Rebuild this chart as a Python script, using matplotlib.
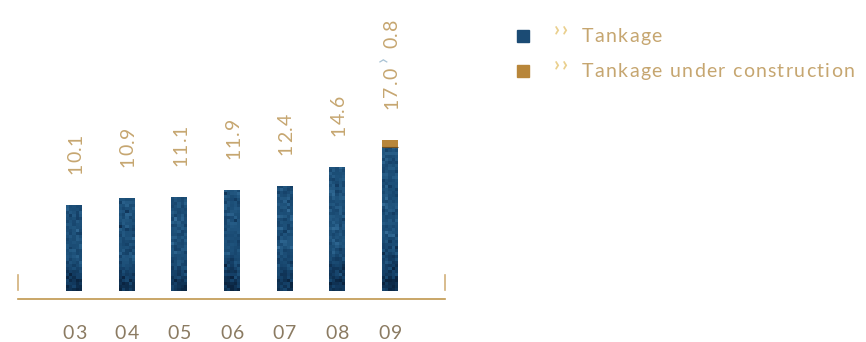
import numpy as np
import matplotlib
matplotlib.use("Agg")
import matplotlib.pyplot as plt
from matplotlib.lines import Line2D
from matplotlib.patches import Rectangle
from matplotlib.font_manager import FontProperties
from matplotlib.textpath import TextToPath

# Tank storage capacity (million m3) by year
years = ["03", "04", "05", "06", "07", "08", "09"]
tankage = [10.1, 10.9, 11.1, 11.9, 12.4, 14.6, 17.0]
under_construction = [0, 0, 0, 0, 0, 0, 0.8]
series_names = ["Tankage", "Tankage under construction"]

W, H = 866, 342
fig = plt.figure(figsize=(W / 100, H / 100), dpi=100)
PX = 72 / 100  # points per pixel

FONT = "Lato"
WEIGHT = "normal"
GOLD = "#c6a670"
GOLD_LINE = "#c0974e"
YEAR_COL = "#8b7b62"
BLUE = "#1b4b74"
ORANGE = "#b8863a"
CHEVRON_BLUE = "#a9c3d5"
CHEVRON_GOLD = "#ead08f"

_t2p = TextToPath()


def ink_width(s, prop):
    return _t2p.get_text_width_height_descent(s, prop, ismath=False)[0]


def tracked(ax, s, xy, xycoords, off, size, color, tracking, rotation=0,
            ha="left", va="baseline", weight=WEIGHT):
    """Draw letter-spaced text; off and tracking in points. Returns length in points."""
    prop = FontProperties(family=FONT, size=size, weight=weight)
    lefts = []
    for i, ch in enumerate(s):
        lefts.append(ink_width(s[:i + 1], prop) - ink_width(ch, prop) + i * tracking)
    total = ink_width(s, prop) + tracking * (len(s) - 1)
    start = {"left": 0, "center": -total / 2, "right": -total}[ha]
    for ch, lx in zip(s, lefts):
        if ch == " ":
            continue
        if rotation == 0:
            o = (off[0] + start + lx, off[1])
        else:
            o = (off[0], off[1] + start + lx)
        ax.annotate(ch, xy, xycoords=xycoords, xytext=o, textcoords="offset points",
                    fontproperties=prop, color=color, rotation=rotation,
                    rotation_mode="anchor", ha="left", va=va, annotation_clip=False)
    return total


# axes spanning the baseline region (pixel layout)
left_px, right_px, base_px = 18, 445, 291
ax = fig.add_axes([left_px / W, 1 - base_px / H, (right_px - left_px) / W, base_px / H])
x = np.arange(len(years))
step = 52.67
xlim = (-(74 - left_px) / step, len(years) - 1 + (right_px - 390) / step)
ylim = (0, base_px / 8.5)
ax.axis("off")

bar_w = 0.30
bars = ax.bar(x, tankage, width=bar_w, color=BLUE, zorder=2)
caps = ax.bar(x, under_construction, width=bar_w, bottom=tankage, color=ORANGE, zorder=2)

# mottled blue fill inside each bar, darker towards the base
tex = np.random.default_rng(7)
cmap = matplotlib.colors.LinearSegmentedColormap.from_list(
    "tank", ["#0a2440", "#143f66", "#1d5079", "#2d6590", "#4a7fa8"])
for b in bars:
    bx, by, bw, bh = b.get_x(), b.get_y(), b.get_width(), b.get_height()
    rows = int(round(bh * 8.5 / 3))
    cols = 5
    base = np.linspace(0.05, 0.5, rows).reshape(-1, 1)
    base = np.minimum(base * 2.2, 0.5)
    mosaic = np.clip(base + tex.normal(0, 0.12, (rows, cols)), 0, 1)
    im = ax.imshow(mosaic, extent=[bx, bx + bw, by, by + bh], origin="lower",
                   cmap=cmap, vmin=0, vmax=1, aspect="auto", zorder=3,
                   interpolation="nearest")
    im.set_clip_path(b)
for c in caps:
    if c.get_height() > 0:
        ax.plot([c.get_x(), c.get_x() + c.get_width()], [c.get_y()] * 2,
                color="#6e4f22", lw=0.8, zorder=4, solid_capstyle="butt")
ax.set_xlim(*xlim)
ax.set_ylim(*ylim)

VAL_SIZE = 14
digit_h = 0.72 * VAL_SIZE
gap = 31 * PX

# value labels above bars (rotated, reading upward)
for xi, v, u in zip(x, tankage, under_construction):
    top = v + u
    length = tracked(ax, f"{v:.1f}", (xi, top), "data", (digit_h / 2, gap),
                     VAL_SIZE, GOLD, 0.6, rotation=90)
    if u:
        tracked(ax, "\u203a", (xi, top), "data", (digit_h / 2 - 6, gap + length + 6 * PX),
                15, CHEVRON_BLUE, 0, rotation=90)
        tracked(ax, f"{u:.1f}", (xi, top), "data",
                (digit_h / 2, gap + length + 20 * PX), VAL_SIZE, GOLD, 0.6,
                rotation=90)

# year labels
for xi, yr in zip(x, years):
    tracked(ax, yr, (xi, 0), "data", (0, -48 * PX), 14, YEAR_COL, 1.0, ha="center")

# baseline and end markers
fig.add_artist(Line2D([left_px / W, right_px / W], [1 - 298.5 / H] * 2,
                      color=GOLD_LINE, lw=1.2))
for px in (left_px, right_px):
    fig.add_artist(Line2D([px / W] * 2, [1 - 275 / H, 1 - 290 / H],
                          color="#d2b07a", lw=1.2))

# legend
for base_y, col, name in [(42, BLUE, series_names[0]), (77, ORANGE, series_names[1])]:
    fig.add_artist(Rectangle((517 / W, 1 - base_y / H), 12 / W, 12 / H,
                             color=col, transform=fig.transFigure))
    tracked(ax, "\u203a\u203a", (554, H - base_y + 7), "figure pixels", (0, 0),
            15, CHEVRON_GOLD, 1.5, weight="bold")
    tracked(ax, name, (582, H - base_y), "figure pixels", (0, 0),
            14, GOLD, 0.95)

fig.savefig("out.png", dpi=100)
